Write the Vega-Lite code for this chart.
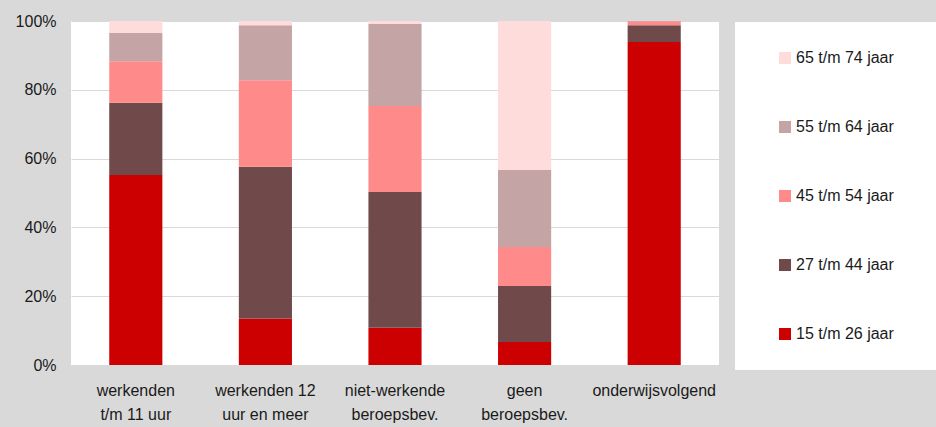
{
  "$schema": "https://vega.github.io/schema/vega-lite/v6.json",
  "autosize": "none",
  "width": 648,
  "height": 344,
  "padding": {"left": 71, "top": 21, "right": 217, "bottom": 62},
  "background": "#d9d9d9",
  "config": {
    "view": {"fill": "white", "stroke": null},
    "font": "Liberation Sans"
  },
  "data": {
    "values": [
      {"groep": "werkenden t/m 11 uur", "leeftijd": "15 t/m 26 jaar", "pct": 55.2},
      {"groep": "werkenden t/m 11 uur", "leeftijd": "27 t/m 44 jaar", "pct": 21.0},
      {"groep": "werkenden t/m 11 uur", "leeftijd": "45 t/m 54 jaar", "pct": 12.1},
      {"groep": "werkenden t/m 11 uur", "leeftijd": "55 t/m 64 jaar", "pct": 8.2},
      {"groep": "werkenden t/m 11 uur", "leeftijd": "65 t/m 74 jaar", "pct": 3.5},
      {"groep": "werkenden 12 uur en meer", "leeftijd": "15 t/m 26 jaar", "pct": 13.5},
      {"groep": "werkenden 12 uur en meer", "leeftijd": "27 t/m 44 jaar", "pct": 44.1},
      {"groep": "werkenden 12 uur en meer", "leeftijd": "45 t/m 54 jaar", "pct": 25.2},
      {"groep": "werkenden 12 uur en meer", "leeftijd": "55 t/m 64 jaar", "pct": 16.0},
      {"groep": "werkenden 12 uur en meer", "leeftijd": "65 t/m 74 jaar", "pct": 1.2},
      {"groep": "niet-werkende beroepsbev.", "leeftijd": "15 t/m 26 jaar", "pct": 10.8},
      {"groep": "niet-werkende beroepsbev.", "leeftijd": "27 t/m 44 jaar", "pct": 39.5},
      {"groep": "niet-werkende beroepsbev.", "leeftijd": "45 t/m 54 jaar", "pct": 25.0},
      {"groep": "niet-werkende beroepsbev.", "leeftijd": "55 t/m 64 jaar", "pct": 23.8},
      {"groep": "niet-werkende beroepsbev.", "leeftijd": "65 t/m 74 jaar", "pct": 0.9},
      {"groep": "geen beroepsbev.", "leeftijd": "15 t/m 26 jaar", "pct": 6.7},
      {"groep": "geen beroepsbev.", "leeftijd": "27 t/m 44 jaar", "pct": 16.3},
      {"groep": "geen beroepsbev.", "leeftijd": "45 t/m 54 jaar", "pct": 11.3},
      {"groep": "geen beroepsbev.", "leeftijd": "55 t/m 64 jaar", "pct": 22.4},
      {"groep": "geen beroepsbev.", "leeftijd": "65 t/m 74 jaar", "pct": 43.3},
      {"groep": "onderwijsvolgend", "leeftijd": "15 t/m 26 jaar", "pct": 93.9},
      {"groep": "onderwijsvolgend", "leeftijd": "27 t/m 44 jaar", "pct": 4.9},
      {"groep": "onderwijsvolgend", "leeftijd": "45 t/m 54 jaar", "pct": 1.1},
      {"groep": "onderwijsvolgend", "leeftijd": "55 t/m 64 jaar", "pct": 0.1},
      {"groep": "onderwijsvolgend", "leeftijd": "65 t/m 74 jaar", "pct": 0.0}
    ]
  },
  "mark": {"type": "bar"},
  "encoding": {
    "x": {
      "field": "groep",
      "type": "nominal",
      "sort": null,
      "scale": {"paddingInner": 0.59, "paddingOuter": 0.295},
      "axis": {
        "title": null,
        "labelAngle": 0,
        "ticks": false,
        "domain": false,
        "labelFontSize": 16,
        "labelColor": "#1a1a1a",
        "labelPadding": 17,
        "labelLineHeight": 24,
        "labelBaseline": "top",
        "labelLimit": 200,
        "labelExpr": "datum.label == 'werkenden t/m 11 uur' ? ['werkenden', 't/m 11 uur'] : datum.label == 'werkenden 12 uur en meer' ? ['werkenden 12', 'uur en meer'] : datum.label == 'niet-werkende beroepsbev.' ? ['niet-werkende', 'beroepsbev.'] : datum.label == 'geen beroepsbev.' ? ['geen', 'beroepsbev.'] : datum.label"
      }
    },
    "y": {
      "field": "pct",
      "type": "quantitative",
      "stack": "normalize",
      "scale": {"domain": [0, 1]},
      "axis": {
        "title": null,
        "format": ".0%",
        "values": [0, 0.2, 0.4, 0.6, 0.8, 1],
        "ticks": false,
        "domain": false,
        "labelFontSize": 16,
        "labelColor": "#1a1a1a",
        "labelPadding": 15,
        "gridColor": "#d9d9d9",
        "gridWidth": 1.2
      }
    },
    "color": {
      "field": "leeftijd",
      "type": "nominal",
      "scale": {
        "domain": ["65 t/m 74 jaar", "55 t/m 64 jaar", "45 t/m 54 jaar", "27 t/m 44 jaar", "15 t/m 26 jaar"],
        "range": ["#ffdcdc", "#c4a4a5", "#ff8a8a", "#704a4a", "#cc0000"]
      },
      "legend": {
        "title": " ",
        "titleOrient": "right",
        "titlePadding": 24,
        "orient": "none",
        "legendX": 664,
        "legendY": 1,
        "fillColor": "white",
        "padding": 28,
        "symbolOffset": 14,
        "symbolType": "square",
        "symbolSize": 144,
        "symbolStrokeWidth": 0,
        "labelFontSize": 16,
        "labelColor": "#1a1a1a",
        "labelOffset": 3,
        "rowPadding": 53,
        "labelLimit": 200
      }
    },
    "order": {"field": "leeftijd", "sort": "ascending"}
  }
}
